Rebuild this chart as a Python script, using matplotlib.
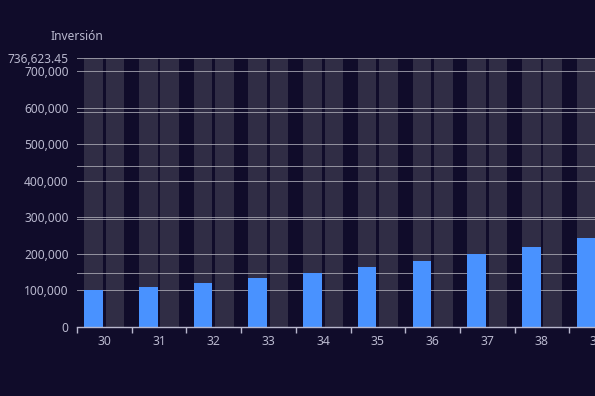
import matplotlib
matplotlib.use("Agg")
import matplotlib.pyplot as plt
import numpy as np
from matplotlib.ticker import FixedLocator, FuncFormatter

# Data
categories = ["30", "31", "32", "33", "34", "35", "36", "37", "38", "39"]
inversion = [100000, 110000, 121000, 133000, 147000, 163000, 180000, 199000, 220000, 244000]
second_series = [0, 0, 0, 0, 0, 0, 0, 0, 0, 0]
y_max = 736623.45
y_ticks = [0, 100000, 200000, 300000, 400000, 500000, 600000, 700000]
axis_name = "Inversión"

BG = "#100C2A"
LABEL = "#B9B8CE"
GRID = "#8A8999"
BLUE = "#4992FF"

plt.rcParams["font.family"] = ["Noto Sans", "DejaVu Sans"]

W, H = 595, 396
fig = plt.figure(figsize=(W / 100, H / 100), dpi=100, facecolor=BG)

left_px, right_px = 77, 624
top_px, bottom_px = 58, 327
pos = [left_px / W, 1 - bottom_px / H, (right_px - left_px) / W, (bottom_px - top_px) / H]

# secondary axis (its split lines only), drawn beneath
ax2 = fig.add_axes(pos)
ax2.set_facecolor(BG)
ax2.set_ylim(0, 1)
ax2.set_xlim(0, 1)
ax2.set_yticks(np.linspace(0, 1, 6))
ax2.yaxis.set_ticks_position("right")
ax2.tick_params(axis="y", length=0, labelright=False, labelleft=False)
ax2.set_xticks([])
ax2.grid(axis="y", color=GRID, linewidth=0.72)
for s in ax2.spines.values():
    s.set_visible(False)

ax = fig.add_axes(pos)
ax.patch.set_visible(False)
ax.set_zorder(ax2.get_zorder() + 1)

x = np.arange(len(categories))
bw = 0.34
off = 0.195
# background bars
ax.bar(x - off, [y_max] * len(x), width=bw, color=(180/255, 180/255, 180/255, 0.2), zorder=1, linewidth=0)
ax.bar(x + off, [y_max] * len(x), width=bw, color=(180/255, 180/255, 180/255, 0.2), zorder=1, linewidth=0)
ax.bar(x - off, inversion, width=bw, color=BLUE, zorder=2, linewidth=0)
ax.bar(x + off, second_series, width=bw, color="#EE6666", zorder=2, linewidth=0)

ax.set_xlim(-0.5, len(categories) - 0.5)
ax.set_ylim(0, y_max)

ax.yaxis.set_major_locator(FixedLocator(y_ticks + [y_max]))
def yfmt(v, p):
    if abs(v - y_max) < 1e-6:
        return f"{v:,.2f}"
    return f"{int(round(v)):,}"
ax.yaxis.set_major_formatter(FuncFormatter(yfmt))
ax.tick_params(axis="y", length=0, pad=6, labelsize=8.6, labelcolor=LABEL)
ax.grid(axis="y", color=GRID, linewidth=0.72, zorder=0)
ax.set_axisbelow(True)

ax.set_xticks(np.arange(-0.5, len(categories), 1.0))
ax.set_xticklabels([])
ax.set_xticks(x, minor=True)
ax.set_xticklabels(categories, minor=True)
ax.tick_params(axis="x", which="major", length=4, width=1, color=LABEL, direction="out")
ax.tick_params(axis="x", which="minor", length=0, pad=5.5, labelsize=8.8, labelcolor=LABEL)

for k in ["top", "right", "left"]:
    ax.spines[k].set_visible(False)
ax.spines["bottom"].set_color(LABEL)
ax.spines["bottom"].set_linewidth(1)

fig.text(left_px / W, 1 - 36 / H, axis_name, ha="center", va="center", color=LABEL, fontsize=8.6)

fig.savefig("out.png", dpi=100, facecolor=BG)
